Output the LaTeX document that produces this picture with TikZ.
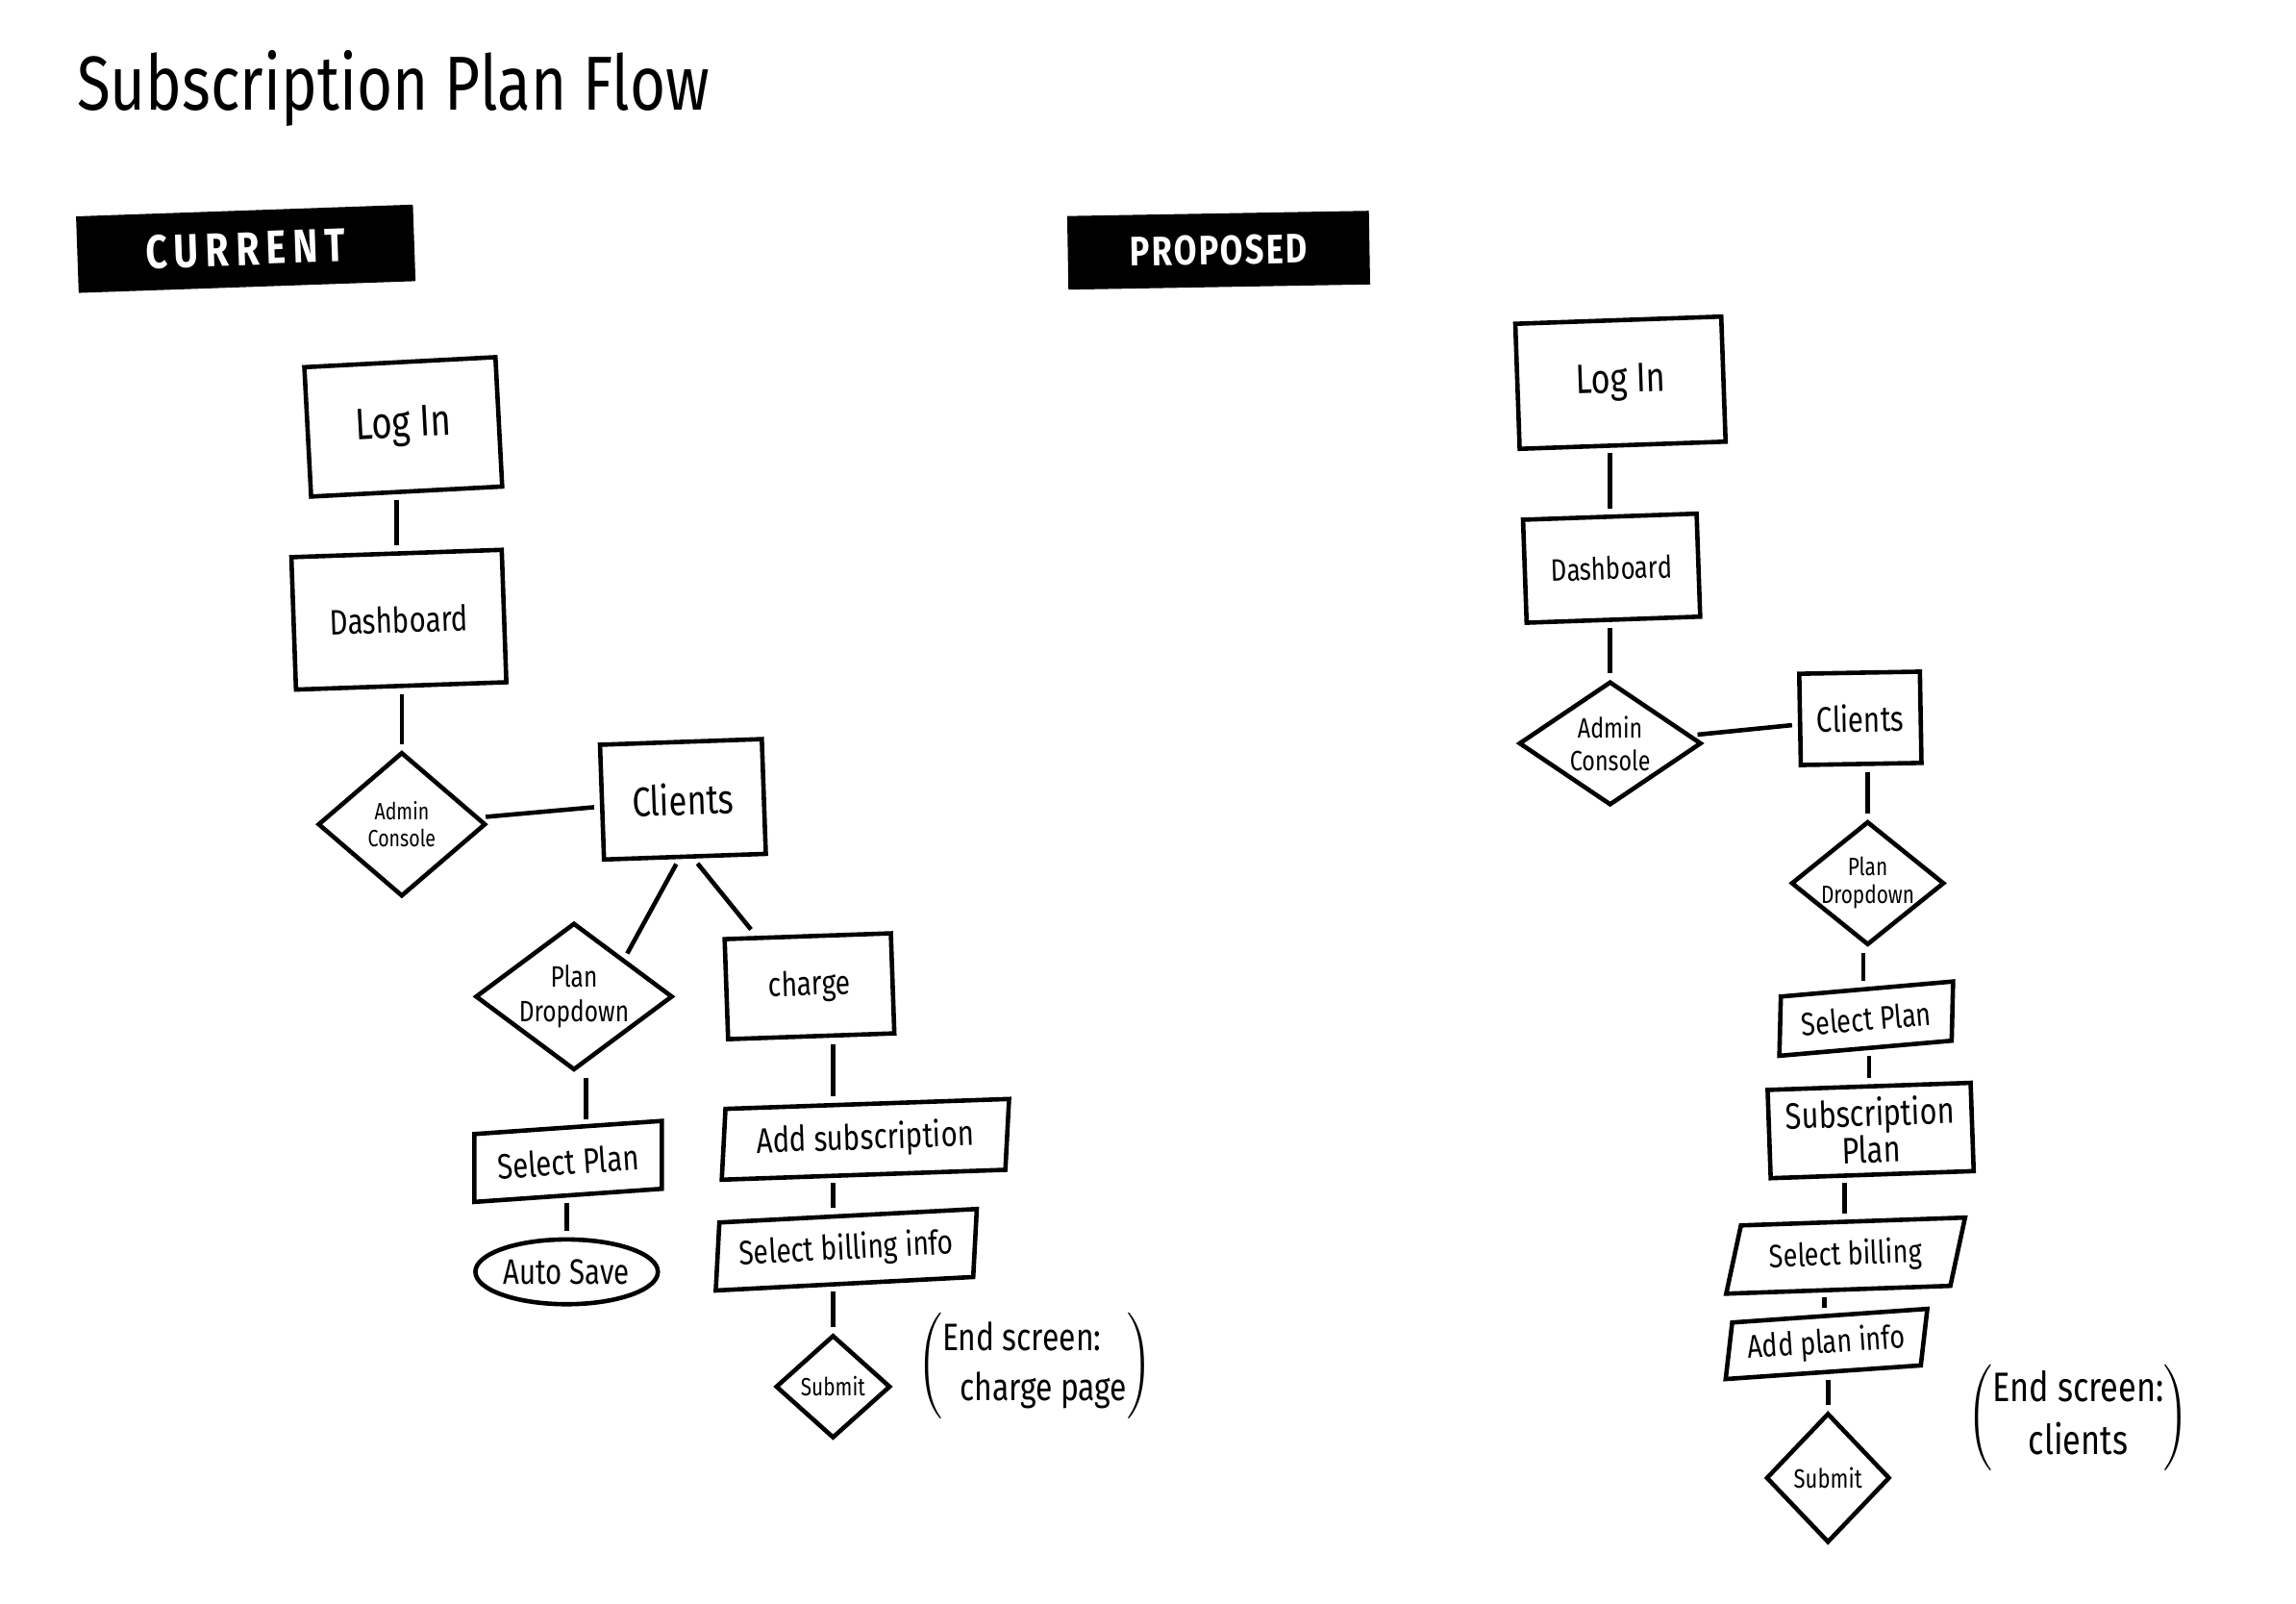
\documentclass[tikz,border=0pt]{standalone}
\usepackage{fontspec}
\setmainfont{Fira Sans}[FakeStretch=0.8]
\usetikzlibrary{shapes.geometric}
\newcommand{\fs}[2]{\fontsize{#1}{#2}\selectfont}
\tikzset{
  base/.style={draw, line width=1.5pt, inner sep=0pt, align=center},
  box/.style={base, rectangle},
  dia/.style={base, diamond, inner sep=-8pt},
  para/.style={base, trapezium, trapezium left angle=#1, trapezium right angle=180-#1, trapezium stretches body},
  para/.default=78,
  oval/.style={base, ellipse},
  link/.style={line width=1.5pt, shorten <=2pt, shorten >=2pt},
  tag/.style={fill=black, text=white, inner sep=0pt},
  note/.style={inner sep=0pt, align=left}
}
\begin{document}
\begin{tikzpicture}[x=0.5pt, y=-0.5pt]
\fill[white] (0,0) rectangle (1560,1089.6);
\useasboundingbox (0,0) rectangle (1560,1089.6);

% title
\node[inner sep=0pt, anchor=west, font=\fs{26}{30}] (title) at (52,60) {Subscription Plan Flow};

% tags
\node[tag, rotate=2, minimum width=114.5pt, minimum height=26pt, font=\fs{16}{16}\bfseries\addfontfeature{LetterSpace=15}] (current) at (167,169) {CURRENT};
\node[tag, rotate=1, minimum width=102.5pt, minimum height=25pt, font=\fs{14}{14}\bfseries\addfontfeature{LetterSpace=5}] (proposed) at (828,170) {PROPOSED};

% ---------- current ----------
\node[box, rotate=3, minimum width=65pt, minimum height=44pt, font=\fs{15}{18}] (login) at (274,290) {Log In};
\node[box, rotate=2, minimum width=71.5pt, minimum height=45pt, font=\fs{12}{14}] (dash) at (271,421) {Dashboard};
\node[dia, minimum width=57pt, minimum height=49pt, font=\fs{8}{9}] (admin) at (273,560) {Admin\\Console};
\node[box, rotate=2, minimum width=55pt, minimum height=39pt, font=\fs{14}{16}] (clients) at (464,543) {Clients};
\node[dia, minimum width=67pt, minimum height=50pt, font=\fs{10}{12}] (pdrop) at (390,677) {Plan\\Dropdown};
\node[box, rotate=2, minimum width=56.5pt, minimum height=34pt, font=\fs{11.5}{13}] (charge) at (550,670) {charge};
\node[para=80, rotate=4, minimum width=65.5pt, minimum height=23pt, font=\fs{12}{14}] (selplanL) at (386,789) {Select Plan};
\node[oval, minimum width=62pt, minimum height=22pt, font=\fs{12}{14}] (autosave) at (385,864) {Auto Save};
\node[para=80, rotate=2, minimum width=98.5pt, minimum height=24pt, font=\fs{12}{14}] (addsub) at (588,774) {Add subscription};
\node[para=78, rotate=3, minimum width=90pt, minimum height=23pt, font=\fs{11.5}{13}] (selbill) at (575,849) {Select billing info};
\node[dia, minimum width=39pt, minimum height=35pt, font=\fs{8.5}{9}] (submitL) at (566,942) {Submit};
\node[note, font=\fs{13}{17}] (endL) at (703,928) {$\left(\begin{tabular}{@{}l@{}}End screen:\\\hspace{6pt}charge page\end{tabular}\right)$};

\draw[link] (login.south -| dash.north) -- (dash.north);
\draw[link] (dash.south -| admin.north) -- (admin.north);
\draw[link] (admin) -- (clients);
\draw[link] ([xshift=-2pt]clients.south) -- (pdrop.north east);
\draw[link] ([xshift=3pt]clients.south) -- ([xshift=-18pt]charge.north);
\draw[link] ([xshift=7pt]selplanL.north |- pdrop.south) -- ([xshift=7pt]selplanL.north);
\draw[link] (selplanL.south -| autosave.north) -- (autosave.north);
\draw[link] (charge.south -| submitL.north) -- (addsub.north -| submitL.north);
\draw[link] (addsub.south -| submitL.north) -- (selbill.north -| submitL.north);
\draw[link] (selbill.south -| submitL.north) -- (submitL.north);

% ---------- proposed ----------
\node[box, rotate=2, minimum width=70pt, minimum height=42.5pt, font=\fs{14}{16}] (loginR) at (1101,260) {Log In};
\node[box, rotate=2, minimum width=59pt, minimum height=35pt, font=\fs{10.5}{12}] (dashR) at (1095,386) {Dashboard};
\node[dia, minimum width=62pt, minimum height=42pt, font=\fs{9.5}{11}] (adminR) at (1094,505) {Admin\\Console};
\node[box, rotate=1, minimum width=41pt, minimum height=31pt, font=\fs{12}{14}] (clientsR) at (1264,488) {Clients};
\node[dia, minimum width=52pt, minimum height=42pt, font=\fs{8.5}{9.5}] (pdropR) at (1269,600) {Plan\\Dropdown};
\node[para=75, rotate=5, minimum width=61pt, minimum height=20pt, font=\fs{11}{13}] (selplanR) at (1268,692) {Select Plan};
\node[box, rotate=2, minimum width=69pt, minimum height=30pt, font=\fs{12.5}{12.5}] (subplan) at (1271,768) {Subscription\\Plan};
\node[para=62, rotate=2, minimum width=82pt, minimum height=23pt, font=\fs{11}{13}] (selbillR) at (1254,853) {Select billing};
\node[para=72, rotate=4, minimum width=70pt, minimum height=19pt, font=\fs{11}{13}] (addplan) at (1241,913) {Add plan info};
\node[dia, minimum width=42pt, minimum height=44pt, font=\fs{9}{10}] (submitR) at (1242,1004) {Submit};
\node[note, font=\fs{14}{18}] (endR) at (1412,963) {$\left(\begin{tabular}{@{}c@{}}End screen:\\clients\end{tabular}\right)$};

\draw[link] (loginR.south -| dashR.north) -- (dashR.north);
\draw[link] (dashR.south -| adminR.north) -- (adminR.north);
\draw[link] (adminR) -- (clientsR);
\draw[link] (clientsR.south -| pdropR.north) -- (pdropR.north);
\draw[link] (pdropR.south -| selplanR.north) -- (selplanR.north);
\draw[link] (selplanR.south -| subplan.north) -- (subplan.north);
\draw[link] (subplan.south -| selbillR.north) -- (selbillR.north);
\draw[link] (selbillR.south -| addplan.north) -- (addplan.north);
\draw[link] (addplan.south -| submitR.north) -- (submitR.north);
\end{tikzpicture}
\end{document}
